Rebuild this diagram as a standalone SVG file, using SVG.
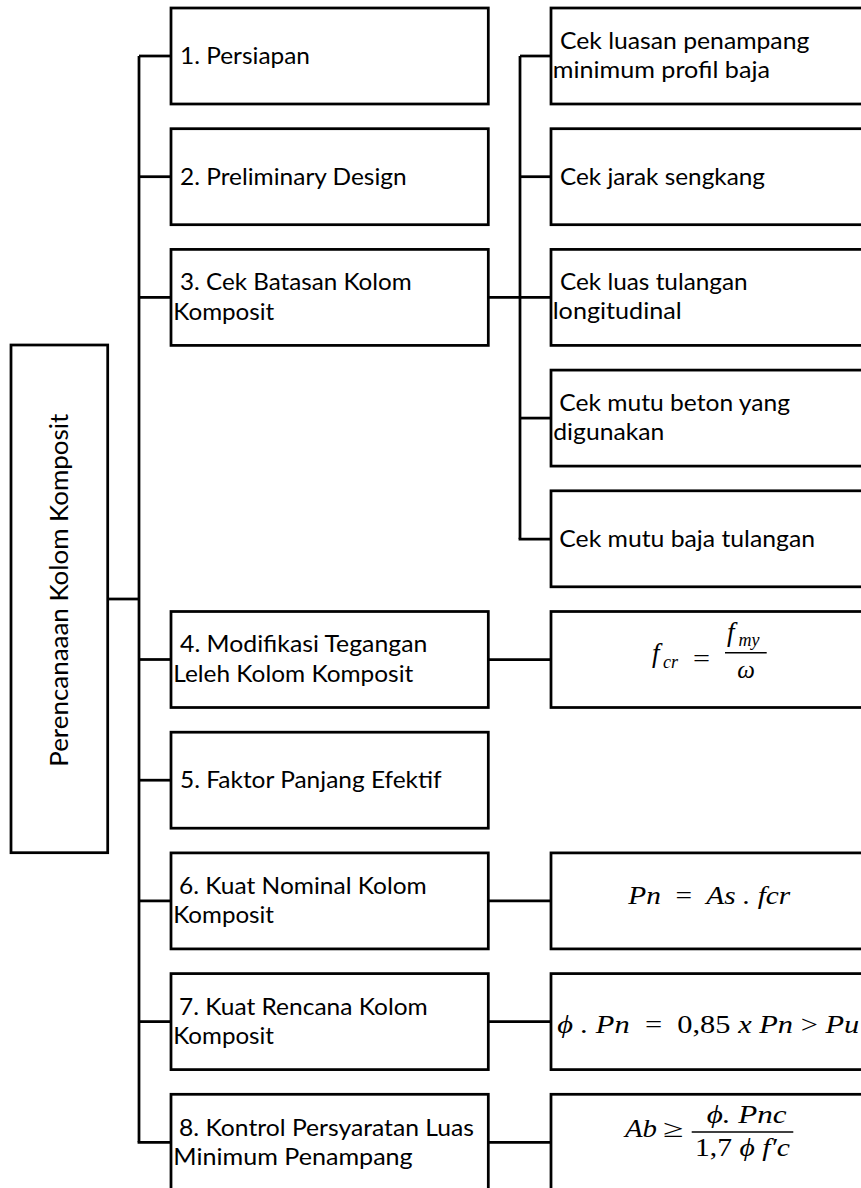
<svg xmlns="http://www.w3.org/2000/svg" width="861" height="1188" viewBox="0 0 861 1188">
<style>
.box{fill:#fff;stroke:#000;stroke-width:2.75}
.lbl{font-family:Lato,'Open Sans',sans-serif;font-size:24px;fill:#000}
.root{font-family:Lato,'Open Sans',sans-serif;font-size:25.5px;fill:#000}
.m{font-family:'Liberation Serif',serif;font-style:italic;font-size:25px;fill:#000}
.mn{font-family:'Liberation Serif',serif;font-style:normal;font-size:25px;fill:#000}
.big{font-size:27px}
.sub{font-family:'Liberation Serif',serif;font-style:italic;font-size:18px;fill:#000}
#connectors line{stroke:#000;stroke-width:2.75;fill:none}
.bar{stroke:#000;stroke-width:1.6}
</style>
<rect width="861" height="1188" fill="#fff"/>
<g id="connectors">
<line x1="139" y1="56" x2="139" y2="1142.3"/>
<line x1="107.7" y1="599" x2="139" y2="599"/>
<line x1="139" y1="56" x2="171" y2="56"/>
<line x1="139" y1="176.7" x2="171" y2="176.7"/>
<line x1="139" y1="297.4" x2="171" y2="297.4"/>
<line x1="139" y1="659.5" x2="171" y2="659.5"/>
<line x1="139" y1="780.2" x2="171" y2="780.2"/>
<line x1="139" y1="900.9" x2="171" y2="900.9"/>
<line x1="139" y1="1021.6" x2="171" y2="1021.6"/>
<line x1="137.6" y1="1142.3" x2="171" y2="1142.3"/>
<line x1="488" y1="297.4" x2="551" y2="297.4"/>
<line x1="520" y1="56" x2="520" y2="539.1"/>
<line x1="520" y1="56" x2="551" y2="56"/>
<line x1="520" y1="176.7" x2="551" y2="176.7"/>
<line x1="520" y1="418.1" x2="551" y2="418.1"/>
<line x1="518.6" y1="539.1" x2="551" y2="539.1"/>
<line x1="488" y1="659.5" x2="551" y2="659.5"/>
<line x1="488" y1="900.9" x2="551" y2="900.9"/>
<line x1="488" y1="1021.6" x2="551" y2="1021.6"/>
<line x1="488" y1="1142.3" x2="551" y2="1142.3"/>
</g>
<g id="root">
<rect class="box" x="11" y="345" width="96.7" height="507.7"/>
<text class="root" transform="translate(68,766.7) rotate(-90)" textLength="353" lengthAdjust="spacingAndGlyphs">Perencanaaan Kolom Komposit</text>
</g>
<g id="n1">
<rect class="box" x="171" y="8" width="317.3" height="96"/>
<text class="lbl" x="180" y="64" textLength="130" lengthAdjust="spacingAndGlyphs">1. Persiapan</text>
</g>
<g id="n2">
<rect class="box" x="171" y="128.7" width="317.3" height="96"/>
<text class="lbl" x="180" y="184.5" textLength="226.7" lengthAdjust="spacingAndGlyphs">2. Preliminary Design</text>
</g>
<g id="n3">
<rect class="box" x="171" y="249.4" width="317.3" height="96"/>
<text class="lbl" x="180" y="289.5" textLength="231.7" lengthAdjust="spacingAndGlyphs">3. Cek Batasan Kolom</text>
<text class="lbl" x="173.3" y="319.5" textLength="101" lengthAdjust="spacingAndGlyphs">Komposit</text>
</g>
<g id="n4">
<rect class="box" x="171" y="611.5" width="317.3" height="96"/>
<text class="lbl" x="180" y="652.3" textLength="247.3" lengthAdjust="spacingAndGlyphs">4. Modifikasi Tegangan</text>
<text class="lbl" x="173.3" y="681.7" textLength="240" lengthAdjust="spacingAndGlyphs">Leleh Kolom Komposit</text>
</g>
<g id="n5">
<rect class="box" x="171" y="732.2" width="317.3" height="96"/>
<text class="lbl" x="180" y="788.3" textLength="261.7" lengthAdjust="spacingAndGlyphs">5. Faktor Panjang Efektif</text>
</g>
<g id="n6">
<rect class="box" x="171" y="852.9" width="317.3" height="96"/>
<text class="lbl" x="179" y="893.5" textLength="247.7" lengthAdjust="spacingAndGlyphs">6. Kuat Nominal Kolom</text>
<text class="lbl" x="173.3" y="922.7" textLength="100.7" lengthAdjust="spacingAndGlyphs">Komposit</text>
</g>
<g id="n7">
<rect class="box" x="171" y="973.6" width="317.3" height="96"/>
<text class="lbl" x="179" y="1014.8" textLength="248.7" lengthAdjust="spacingAndGlyphs">7. Kuat Rencana Kolom</text>
<text class="lbl" x="173.3" y="1044" textLength="100.7" lengthAdjust="spacingAndGlyphs">Komposit</text>
</g>
<g id="n8">
<rect class="box" x="171" y="1094.3" width="317.3" height="96"/>
<text class="lbl" x="179" y="1135.5" textLength="295" lengthAdjust="spacingAndGlyphs">8. Kontrol Persyaratan Luas</text>
<text class="lbl" x="173.3" y="1164.8" textLength="239.4" lengthAdjust="spacingAndGlyphs">Minimum Penampang</text>
</g>
<g id="c1">
<rect class="box" x="551" y="8" width="330" height="96"/>
<text class="lbl" x="560" y="49.3" textLength="249.3" lengthAdjust="spacingAndGlyphs">Cek luasan penampang</text>
<text class="lbl" x="552.7" y="78" textLength="217.3" lengthAdjust="spacingAndGlyphs">minimum profil baja</text>
</g>
<g id="c2">
<rect class="box" x="551" y="128.7" width="330" height="96"/>
<text class="lbl" x="560" y="184.5" textLength="205" lengthAdjust="spacingAndGlyphs">Cek jarak sengkang</text>
</g>
<g id="c3">
<rect class="box" x="551" y="249.4" width="330" height="96"/>
<text class="lbl" x="560" y="290" textLength="187.7" lengthAdjust="spacingAndGlyphs">Cek luas tulangan</text>
<text class="lbl" x="552.7" y="319.3" textLength="129" lengthAdjust="spacingAndGlyphs">longitudinal</text>
</g>
<g id="c4">
<rect class="box" x="551" y="370.1" width="330" height="96"/>
<text class="lbl" x="559.3" y="410.9" textLength="230.7" lengthAdjust="spacingAndGlyphs">Cek mutu beton yang</text>
<text class="lbl" x="553.3" y="440" textLength="111" lengthAdjust="spacingAndGlyphs">digunakan</text>
</g>
<g id="c5">
<rect class="box" x="551" y="490.8" width="330" height="96"/>
<text class="lbl" x="559.3" y="547" textLength="255.7" lengthAdjust="spacingAndGlyphs">Cek mutu baja tulangan</text>
</g>
<g id="f4">
<rect class="box" x="551" y="611.5" width="330" height="96"/>
<text class="m big" x="652" y="662">f</text>
<text class="sub" x="663" y="667.5">cr</text>
<text class="mn" x="693" y="667" textLength="17" lengthAdjust="spacingAndGlyphs">=</text>
<text class="m big" x="727" y="641">f</text>
<text class="sub" x="738.5" y="646">my</text>
<line class="bar" x1="725" y1="652.7" x2="766.7" y2="652.7"/>
<text class="m" x="746" y="678" text-anchor="middle">ω</text>
</g>
<g id="f6">
<rect class="box" x="551" y="852.9" width="330" height="96"/>
<text class="m" x="628.3" y="903.5" textLength="162" lengthAdjust="spacingAndGlyphs">Pn&#160; <tspan class="mn">=</tspan>&#160; As . fcr</text>
</g>
<g id="f7">
<rect class="box" x="551" y="973.6" width="330" height="96"/>
<text class="m" x="557.3" y="1033" textLength="302" lengthAdjust="spacingAndGlyphs">ϕ . Pn&#160; <tspan class="mn">=</tspan>&#160; <tspan class="mn">0,85</tspan> x Pn <tspan class="mn">&gt;</tspan> Pu</text>
</g>
<g id="f8">
<rect class="box" x="551" y="1094.3" width="330" height="96"/>
<text class="m" x="625" y="1137" textLength="32" lengthAdjust="spacingAndGlyphs">Ab</text>
<text class="mn" x="663" y="1137" textLength="20.5" lengthAdjust="spacingAndGlyphs">≥</text>
<text class="m" x="706.7" y="1123.3" textLength="80" lengthAdjust="spacingAndGlyphs">ϕ. Pnc</text>
<line class="bar" x1="691.7" y1="1132" x2="793.3" y2="1132"/>
<text class="m" x="695" y="1155.5" textLength="95" lengthAdjust="spacingAndGlyphs"><tspan class="mn">1,7</tspan> ϕ f′c</text>
</g>
</svg>
